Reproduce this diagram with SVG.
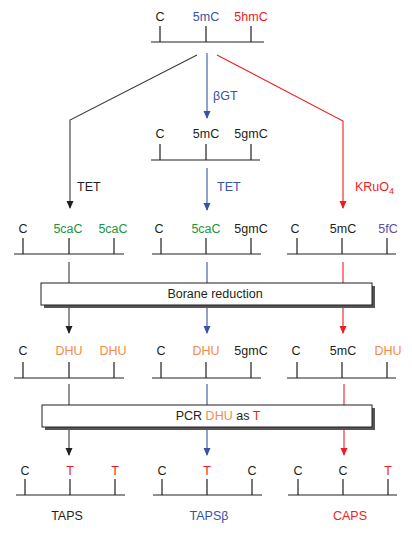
<svg xmlns="http://www.w3.org/2000/svg" width="412" height="537" viewBox="0 0 412 537">
<defs>
<style>
text{font-family:"Liberation Sans",Arial,sans-serif;font-size:12.5px;text-anchor:middle;fill:#231f20}
.s{stroke:#231f20;stroke-width:1.2;fill:none}
.k{stroke:#3a3a3a;stroke-width:1.1;fill:none}
.b{stroke:#3953a4;stroke-width:1.1;fill:none}
.r{stroke:#ed1c24;stroke-width:1.1;fill:none}
.tb{fill:#3953a4}.tr{fill:#ed1c24}.tg{fill:#1a9641}.to{fill:#f58a4b}.tp{fill:#5b4ea0}
</style>
<marker id="ak" viewBox="0 0 8 8" refX="7" refY="4" markerWidth="8" markerHeight="8" markerUnits="userSpaceOnUse" orient="auto"><path d="M0,0.5L8,4L0,7.5z" fill="#231f20"/></marker>
<marker id="ab" viewBox="0 0 8 8" refX="7" refY="4" markerWidth="8" markerHeight="8" markerUnits="userSpaceOnUse" orient="auto"><path d="M0,0.5L8,4L0,7.5z" fill="#3953a4"/></marker>
<marker id="ar" viewBox="0 0 8 8" refX="7" refY="4" markerWidth="8" markerHeight="8" markerUnits="userSpaceOnUse" orient="auto"><path d="M0,0.5L8,4L0,7.5z" fill="#ed1c24"/></marker>
</defs>

<g id="connectors">
<path class="k" d="M197,55L70,120L70,208" marker-end="url(#ak)"/>
<path class="b" d="M207,53L207,118" marker-end="url(#ab)"/>
<path class="r" d="M217,55L343,121L343,208" marker-end="url(#ar)"/>
<path class="b" d="M207,168L207,210" marker-end="url(#ab)"/>
<path class="k" d="M69,262L69,283"/>
<path class="b" d="M207,262L207,283"/>
<path class="r" d="M343,262L343,283"/>
<path class="k" d="M69,306L69,333" marker-end="url(#ak)"/>
<path class="b" d="M207,306L207,333" marker-end="url(#ab)"/>
<path class="r" d="M343,306L343,333" marker-end="url(#ar)"/>
<path class="k" d="M69,384L69,405"/>
<path class="b" d="M207,384L207,405"/>
<path class="r" d="M344,384L344,405"/>
<path class="k" d="M69,428L69,455" marker-end="url(#ak)"/>
<path class="b" d="M207,428L207,455" marker-end="url(#ab)"/>
<path class="r" d="M344,428L344,455" marker-end="url(#ar)"/>
<text x="213" y="100" class="tb" style="text-anchor:start">βGT</text>
<text x="77" y="191" style="text-anchor:start">TET</text>
<text x="217" y="191" class="tb" style="text-anchor:start">TET</text>
<text x="355" y="191" class="tr" style="text-anchor:start">KRuO<tspan font-size="9" dy="3">4</tspan></text>
</g>

<g id="strand-top">
<path class="s" d="M151,42H264M160,26V42M206,26V42M251,26V42"/>
<text x="160" y="21">C</text><text x="206" y="21" class="tb">5mC</text><text x="251" y="21" class="tr">5hmC</text>
</g>

<g id="strand-bgt">
<path class="s" d="M151,160H260M160,144V160M206,144V160M251,144V160"/>
<text x="160" y="138">C</text><text x="206" y="138">5mC</text><text x="251" y="138">5gmC</text>
</g>

<g id="strand-tet">
<path class="s" d="M14,254H124M23,238V254M69,238V254M114,238V254"/>
<text x="23" y="233">C</text><text x="68" y="233" class="tg">5caC</text><text x="113" y="233" class="tg">5caC</text>
</g>
<g id="strand-tet-b">
<path class="s" d="M152,254H261M161,238V254M206,238V254M251,238V254"/>
<text x="159" y="233">C</text><text x="206" y="233" class="tg">5caC</text><text x="251" y="233">5gmC</text>
</g>
<g id="strand-kruo4">
<path class="s" d="M287,254H396M297,238V254M342,238V254M387,238V254"/>
<text x="295" y="233">C</text><text x="343" y="233">5mC</text><text x="388" y="233" class="tp">5fC</text>
</g>

<g id="box-borane">
<rect x="44" y="286" width="331" height="22" fill="#555"/>
<rect x="41" y="283" width="331" height="22" fill="#fff" stroke="#231f20" stroke-width="1"/>
<text x="215" y="298">Borane reduction</text>
</g>

<g id="strand-dhu-a">
<path class="s" d="M14,378H124M23,362V378M69,362V378M114,362V378"/>
<text x="23" y="355">C</text><text x="69" y="355" class="to">DHU</text><text x="113" y="355" class="to">DHU</text>
</g>
<g id="strand-dhu-b">
<path class="s" d="M152,378H261M161,362V378M206,362V378M251,362V378"/>
<text x="161" y="355">C</text><text x="206" y="355" class="to">DHU</text><text x="251" y="355">5gmC</text>
</g>
<g id="strand-dhu-c">
<path class="s" d="M287,378H396M297,362V378M342,362V378M387,362V378"/>
<text x="296" y="355">C</text><text x="343" y="355">5mC</text><text x="388" y="355" class="to">DHU</text>
</g>

<g id="box-pcr">
<rect x="45" y="408" width="330" height="22" fill="#555"/>
<rect x="42" y="405" width="330" height="22" fill="#fff" stroke="#231f20" stroke-width="1"/>
<text x="218" y="420">PCR <tspan class="to">DHU</tspan> as <tspan class="tr">T</tspan></text>
</g>

<g id="strand-taps">
<path class="s" d="M16,495H125M25,479V495M70,479V495M115,479V495"/>
<text x="25" y="475">C</text><text x="70" y="475" class="tr">T</text><text x="115" y="475" class="tr">T</text>
<text x="67" y="520">TAPS</text>
</g>
<g id="strand-tapsb">
<path class="s" d="M153,495H262M162,479V495M207,479V495M252,479V495"/>
<text x="162" y="475">C</text><text x="207" y="475" class="tr">T</text><text x="252" y="475">C</text>
<text x="209" y="520" class="tb">TAPSβ</text>
</g>
<g id="strand-caps">
<path class="s" d="M288,495H397M298,479V495M343,479V495M388,479V495"/>
<text x="298" y="475">C</text><text x="343" y="475">C</text><text x="388" y="475" class="tr">T</text>
<text x="350" y="520" class="tr">CAPS</text>
</g>
</svg>
